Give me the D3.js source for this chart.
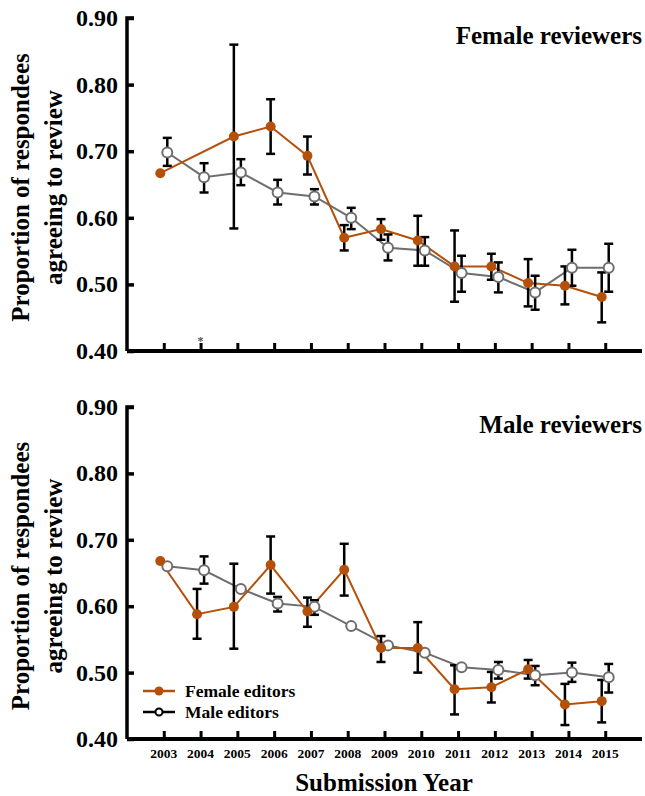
<!DOCTYPE html>
<html>
<head>
<meta charset="utf-8">
<script src="https://cdn.jsdelivr.net/npm/d3@7"></script>
<style>
  body { margin: 0; background: #fff; }
  svg { display: block; font-family: "Liberation Serif", "Times New Roman", serif; font-weight: bold; }
</style>
</head>
<body>
<div id="chart"></div>
<script>
// data
const years = [2003, 2004, 2005, 2006, 2007, 2008, 2009, 2010, 2011, 2012, 2013, 2014, 2015];
const yTicks = [0.40, 0.50, 0.60, 0.70, 0.80, 0.90];

// panel 1: female reviewers
const frFemaleEd   = [0.667, null, 0.722, 0.737, 0.693, 0.570, 0.583, 0.566, 0.527, 0.527, 0.502, 0.498, 0.481];
const frFemaleLo   = [null, null, 0.584, 0.696, 0.665, 0.551, 0.567, 0.528, 0.474, 0.507, 0.467, 0.470, 0.443];
const frFemaleHi   = [null, null, 0.860, 0.778, 0.722, 0.589, 0.598, 0.603, 0.581, 0.546, 0.538, 0.527, 0.518];
const frMaleEd     = [0.698, 0.661, 0.668, 0.638, 0.632, 0.600, 0.555, 0.551, 0.517, 0.511, 0.488, 0.525, 0.525];
const frMaleLo     = [0.678, 0.638, 0.649, 0.620, 0.620, 0.583, 0.536, 0.528, 0.489, 0.488, 0.462, 0.498, 0.489];
const frMaleHi     = [0.720, 0.682, 0.688, 0.657, 0.643, 0.615, 0.575, 0.571, 0.543, 0.533, 0.513, 0.552, 0.561];

// panel 2: male reviewers
const mrFemaleEd   = [0.668, 0.588, 0.599, 0.662, 0.592, 0.655, 0.537, 0.537, 0.475, 0.478, 0.505, 0.452, 0.457];
const mrFemaleLo   = [null, 0.551, 0.536, 0.619, 0.569, 0.616, 0.516, 0.500, 0.437, 0.455, 0.491, 0.421, 0.425];
const mrFemaleHi   = [null, 0.626, 0.664, 0.705, 0.613, 0.694, 0.555, 0.576, 0.511, 0.501, 0.519, 0.483, 0.489];
const mrMaleEd     = [0.660, 0.654, 0.626, 0.604, 0.599, 0.570, 0.541, 0.530, 0.508, 0.504, 0.496, 0.500, 0.493];
const mrMaleLo     = [null, 0.634, null, 0.592, 0.587, null, null, null, null, 0.491, 0.481, 0.486, 0.470];
const mrMaleHi     = [null, 0.675, null, 0.614, 0.609, null, null, null, null, 0.516, 0.510, 0.515, 0.513];

const ORANGE = '#b5500a', GREY = '#6e6e6e';
const W = 645, H = 796;

const svg = d3.select('#chart').append('svg').attr('width', W).attr('height', H);
const x = d3.scaleLinear().domain([2002, 2016]).range([127, 642]);
const dodge = 3.5;

function toRows(vals, lo, hi) {
    return years.map((yr, i) => ({ yr, v: vals[i], lo: lo[i], hi: hi[i] }));
}

function drawPanel(top, bottom, title, series, star) {
    const y = d3.scaleLinear().domain([0.4, 0.9]).range([bottom, top]);
    const g = svg.append('g');

    // y axis
    const ya = g.append('g').attr('transform', `translate(${x(2002)},0)`)
        .call(d3.axisRight(y).tickValues(yTicks).tickSize(7).tickFormat(''));
    ya.select('.domain').attr('d', `M7,${top}H0V${bottom}`).attr('stroke-width', 3.5);
    ya.selectAll('.tick line').attr('stroke-width', 3.5);
    g.selectAll('.ylab').data(yTicks).enter().append('text')
        .attr('x', 118).attr('y', d => y(d) + 8)
        .attr('text-anchor', 'end').style('font-size', '24px')
        .text(d => d.toFixed(2));

    // x axis
    const xa = g.append('g').attr('transform', `translate(0,${bottom})`)
        .call(d3.axisTop(x).tickValues(years).tickSize(8).tickFormat(''));
    xa.select('.domain').attr('d', `M${x(2002)},0H${x(2016)}`).attr('stroke-width', 4);
    xa.selectAll('.tick line').attr('stroke-width', 3);

    // y title
    const cy = (top + bottom) / 2 + 3;
    const yt = g.append('text').attr('transform', `translate(0,${cy}) rotate(-90)`)
        .attr('text-anchor', 'middle').style('font-size', '25px');
    yt.append('tspan').attr('x', 0).attr('y', 29).text('Proportion of respondees');
    yt.append('tspan').attr('x', 0).attr('y', 62).text('agreeing to review');

    g.append('text').attr('x', 642).attr('y', top + 26).attr('text-anchor', 'end')
        .style('font-size', '25px').text(title);

    if (star) {
        g.append('text').attr('x', x(2004)).attr('y', bottom - 6).attr('text-anchor', 'middle')
            .attr('fill', '#555').style('font-size', '12px').text('*');
    }

    series.forEach(s => {
        const line = d3.line().x(d => x(d.yr) + s.dx).y(d => y(d.v));
        g.append('path').datum(s.rows.filter(d => d.v != null))
            .attr('d', line).attr('fill', 'none')
            .attr('stroke', s.color).attr('stroke-width', 2);
    });

    series.forEach(s => {
        const eb = s.rows.filter(d => d.lo != null);
        const eg = g.append('g').attr('stroke', '#000').attr('stroke-width', 2.5);
        eg.selectAll('.v').data(eb).enter().append('line')
            .attr('x1', d => x(d.yr) + s.dx).attr('x2', d => x(d.yr) + s.dx)
            .attr('y1', d => y(d.lo)).attr('y2', d => y(d.hi));
        ['lo', 'hi'].forEach(k => {
            eg.selectAll('.c' + k).data(eb).enter().append('line')
                .attr('x1', d => x(d.yr) + s.dx - 4.5).attr('x2', d => x(d.yr) + s.dx + 4.5)
                .attr('y1', d => y(d[k])).attr('y2', d => y(d[k]));
        });
    });

    series.forEach(s => {
        g.selectAll(null).data(s.rows.filter(d => d.v != null)).enter().append('circle')
            .attr('cx', d => x(d.yr) + s.dx).attr('cy', d => y(d.v)).attr('r', 5)
            .attr('fill', s.filled ? s.color : '#fff')
            .attr('stroke', s.color).attr('stroke-width', s.filled ? 0 : 2);
    });
}

drawPanel(18, 351, 'Female reviewers', [
    { rows: toRows(frMaleEd, frMaleLo, frMaleHi), color: GREY, filled: false, dx: dodge },
    { rows: toRows(frFemaleEd, frFemaleLo, frFemaleHi), color: ORANGE, filled: true, dx: -dodge }
], true);

drawPanel(407, 739, 'Male reviewers', [
    { rows: toRows(mrMaleEd, mrMaleLo, mrMaleHi), color: GREY, filled: false, dx: dodge },
    { rows: toRows(mrFemaleEd, mrFemaleLo, mrFemaleHi), color: ORANGE, filled: true, dx: -dodge }
], false);

// year labels
svg.selectAll('.yr').data(years).enter().append('text')
    .attr('x', d => x(d)).attr('y', 758).attr('text-anchor', 'middle')
    .style('font-size', '13.5px').text(d => d);

svg.append('text').attr('x', 384).attr('y', 791).attr('text-anchor', 'middle')
    .style('font-size', '25px').text('Submission Year');

// legend
const legend = [
    { label: 'Female editors', color: ORANGE, filled: true, lc: ORANGE },
    { label: 'Male editors', color: '#000', filled: false, lc: '#000' }
];
const lg = svg.append('g');
legend.forEach((d, i) => {
    const ly = 691 + i * 21;
    lg.append('line').attr('x1', 143).attr('x2', 175).attr('y1', ly).attr('y2', ly)
        .attr('stroke', d.lc).attr('stroke-width', 2.5);
    lg.append('circle').attr('cx', 159).attr('cy', ly).attr('r', d.filled ? 4.5 : 3.5)
        .attr('fill', d.filled ? d.color : '#fff').attr('stroke', d.color)
        .attr('stroke-width', d.filled ? 0 : 2);
    lg.append('text').attr('x', 185).attr('y', ly + 6).style('font-size', '17.5px').text(d.label);
});
</script>
</body>
</html>
